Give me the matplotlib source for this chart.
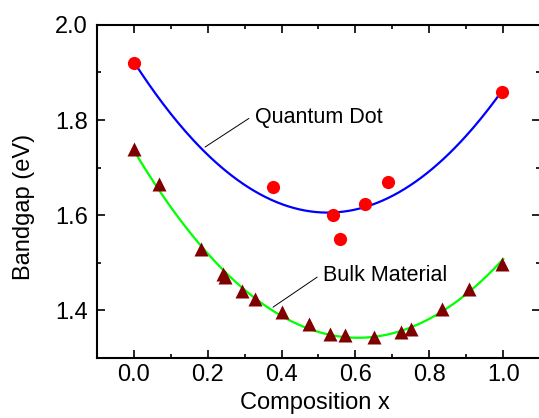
import numpy as np
import matplotlib
matplotlib.use('Agg')
import matplotlib.pyplot as plt
from matplotlib.ticker import MultipleLocator

plt.rcParams['font.family'] = ['Liberation Sans', 'DejaVu Sans']

# quantum dot bandgaps (red circles)
qd_x = [0.0, 0.378, 0.538, 0.559, 0.627, 0.687, 0.997]
qd_e = [1.920, 1.659, 1.600, 1.549, 1.623, 1.669, 1.859]

# bulk material bandgaps (dark red triangles)
bulk_x = [0.0, 0.068, 0.181, 0.243, 0.248, 0.293, 0.327, 0.400, 0.473,
          0.532, 0.572, 0.649, 0.724, 0.749, 0.835, 0.908, 0.997]
bulk_e = [1.740, 1.665, 1.528, 1.476, 1.469, 1.440, 1.423, 1.396, 1.370,
          1.350, 1.347, 1.343, 1.354, 1.360, 1.402, 1.444, 1.497]

x_ticks = [0.0, 0.2, 0.4, 0.6, 0.8, 1.0]
y_ticks = [1.4, 1.6, 1.8, 2.0]

fig = plt.figure(figsize=(5.39, 4.18), dpi=100)
ax = fig.add_axes([0.1794, 0.1447, 0.823, 0.7955])

# quadratic (bowing) fits through the measured points
xx = np.linspace(0, 1, 200)
qd_fit = np.polyfit(qd_x, qd_e, 2)
bulk_fit = np.polyfit(bulk_x, bulk_e, 2)
ax.plot(xx, np.polyval(qd_fit, xx), color='#0000ff', lw=1.6, zorder=2)
ax.plot(xx, np.polyval(bulk_fit, xx), color='#00ff00', lw=1.6, zorder=2)

ax.plot(qd_x, qd_e, 'o', color='#ff0000', ms=9.5, mec='none', zorder=3)
ax.plot(bulk_x, bulk_e, '^', color='#800000', ms=10, mec='none', zorder=3)

ax.annotate('Quantum Dot', xy=(0.193, 1.743), xytext=(0.329, 1.794),
            fontsize=15.5, va='baseline', ha='left',
            arrowprops=dict(arrowstyle='-', color='black', lw=0.7,
                            shrinkA=0, shrinkB=0, relpos=(-0.05, 0.45)))
ax.annotate('Bulk Material', xy=(0.377, 1.406), xytext=(0.513, 1.462),
            fontsize=15.5, va='baseline', ha='left',
            arrowprops=dict(arrowstyle='-', color='black', lw=0.7,
                            shrinkA=0, shrinkB=0, relpos=(-0.05, 0.4)))

ax.set_xlim(-0.1, 1.1)
ax.set_ylim(1.3, 2.0)
ax.set_xticks(x_ticks)
ax.set_yticks(y_ticks)
ax.xaxis.set_minor_locator(MultipleLocator(0.1))
ax.yaxis.set_minor_locator(MultipleLocator(0.1))
ax.tick_params(which='both', direction='in', top=True, right=True, width=1.2)
ax.tick_params(which='major', length=5.8)
ax.tick_params(which='minor', length=3)
ax.tick_params(axis='x', labelsize=17, pad=5)
ax.tick_params(axis='y', labelsize=17, pad=6.5)
for s in ax.spines.values():
    s.set_linewidth(1.5)

ax.set_xlabel('Composition x', fontsize=17)
ax.set_ylabel('Bandgap (eV)', fontsize=17)
ax.xaxis.set_label_coords(0.492, -0.104)
ax.yaxis.set_label_coords(-0.139, 0.453)

fig.savefig('out.png', dpi=100)
